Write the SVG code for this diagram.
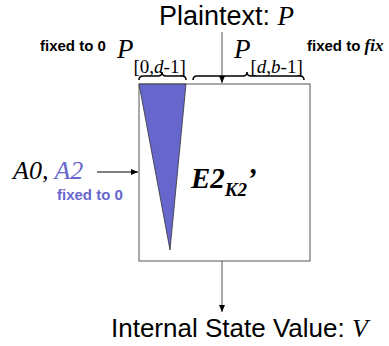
<svg xmlns="http://www.w3.org/2000/svg" width="389" height="346" viewBox="0 0 389 346">
<style>
.sans{font-family:"Liberation Sans",Arial,sans-serif;}
.serif{font-family:"Liberation Serif","Times New Roman",serif;}
.lbl{font-family:"Liberation Sans",Arial,sans-serif;font-weight:bold;font-size:15px;}
.ln{stroke:#555;stroke-width:1;fill:none;}
.brace{stroke:#000;stroke-width:1.5;fill:none;}
</style>
<defs>
<marker id="ah" markerWidth="8" markerHeight="8" refX="7" refY="4" orient="auto" markerUnits="userSpaceOnUse">
<path d="M0,1 L7,4 L0,7 Z" fill="#000"/>
</marker>
</defs>
<rect width="389" height="346" fill="#fff"/>
<g id="connectors">
<line class="ln" x1="222" y1="32" x2="222" y2="83" marker-end="url(#ah)"/>
<line class="ln" x1="97" y1="172" x2="138" y2="172" marker-end="url(#ah)" style="stroke:#000"/>
<line class="ln" x1="222" y1="261" x2="222" y2="312" marker-end="url(#ah)"/>
</g>
<g id="block">
<rect x="139" y="84" width="171" height="177" fill="#fff" stroke="#555" stroke-width="1"/>
<polygon points="139,84 186,84 170,250" fill="#6666cc" stroke="#333" stroke-width="0.8"/>
<text class="serif" x="191" y="188" font-size="29" font-weight="bold" font-style="italic">E2<tspan font-size="19" dy="8">K2</tspan><tspan dy="-8">’</tspan></text>
</g>
<g id="plaintext">
<text class="sans" x="159" y="25" font-size="27">Plaintext: <tspan class="serif" font-style="italic">P</tspan></text>
</g>
<g id="p-left">
<text class="lbl" x="40" y="51">fixed to 0</text>
<text class="serif" x="117" y="58" font-size="27" font-style="italic">P<tspan font-size="19" font-style="normal" dy="15">[0,<tspan font-style="italic">d</tspan>-1]</tspan></text>
<path class="brace" d="M139,80 Q139,76 143,76 L158,76 Q162,76 162,72 Q162,76 166,76 L182,76 Q186,76 186,80"/>
</g>
<g id="p-right">
<text class="serif" x="234" y="58" font-size="27" font-style="italic">P<tspan font-size="19" font-style="normal" dy="15">[<tspan font-style="italic">d</tspan>,<tspan font-style="italic">b</tspan>-1]</tspan></text>
<text class="lbl" x="307" y="51">fixed to <tspan class="serif" font-style="italic" font-size="17">fix</tspan></text>
<path class="brace" d="M193,80 Q193,76 197,76 L243,76 Q247,76 247,72 Q247,76 251,76 L300,76 Q304,76 304,80"/>
</g>
<g id="input-a">
<text class="serif" x="13" y="179" font-size="26" font-style="italic">A0, <tspan fill="#6666cc">A2</tspan></text>
<text class="lbl" x="57" y="200" fill="#6666cc">fixed to 0</text>
</g>
<g id="output">
<text class="sans" x="111" y="337" font-size="26">Internal State Value: <tspan class="serif" font-style="italic">V</tspan></text>
</g>
</svg>
